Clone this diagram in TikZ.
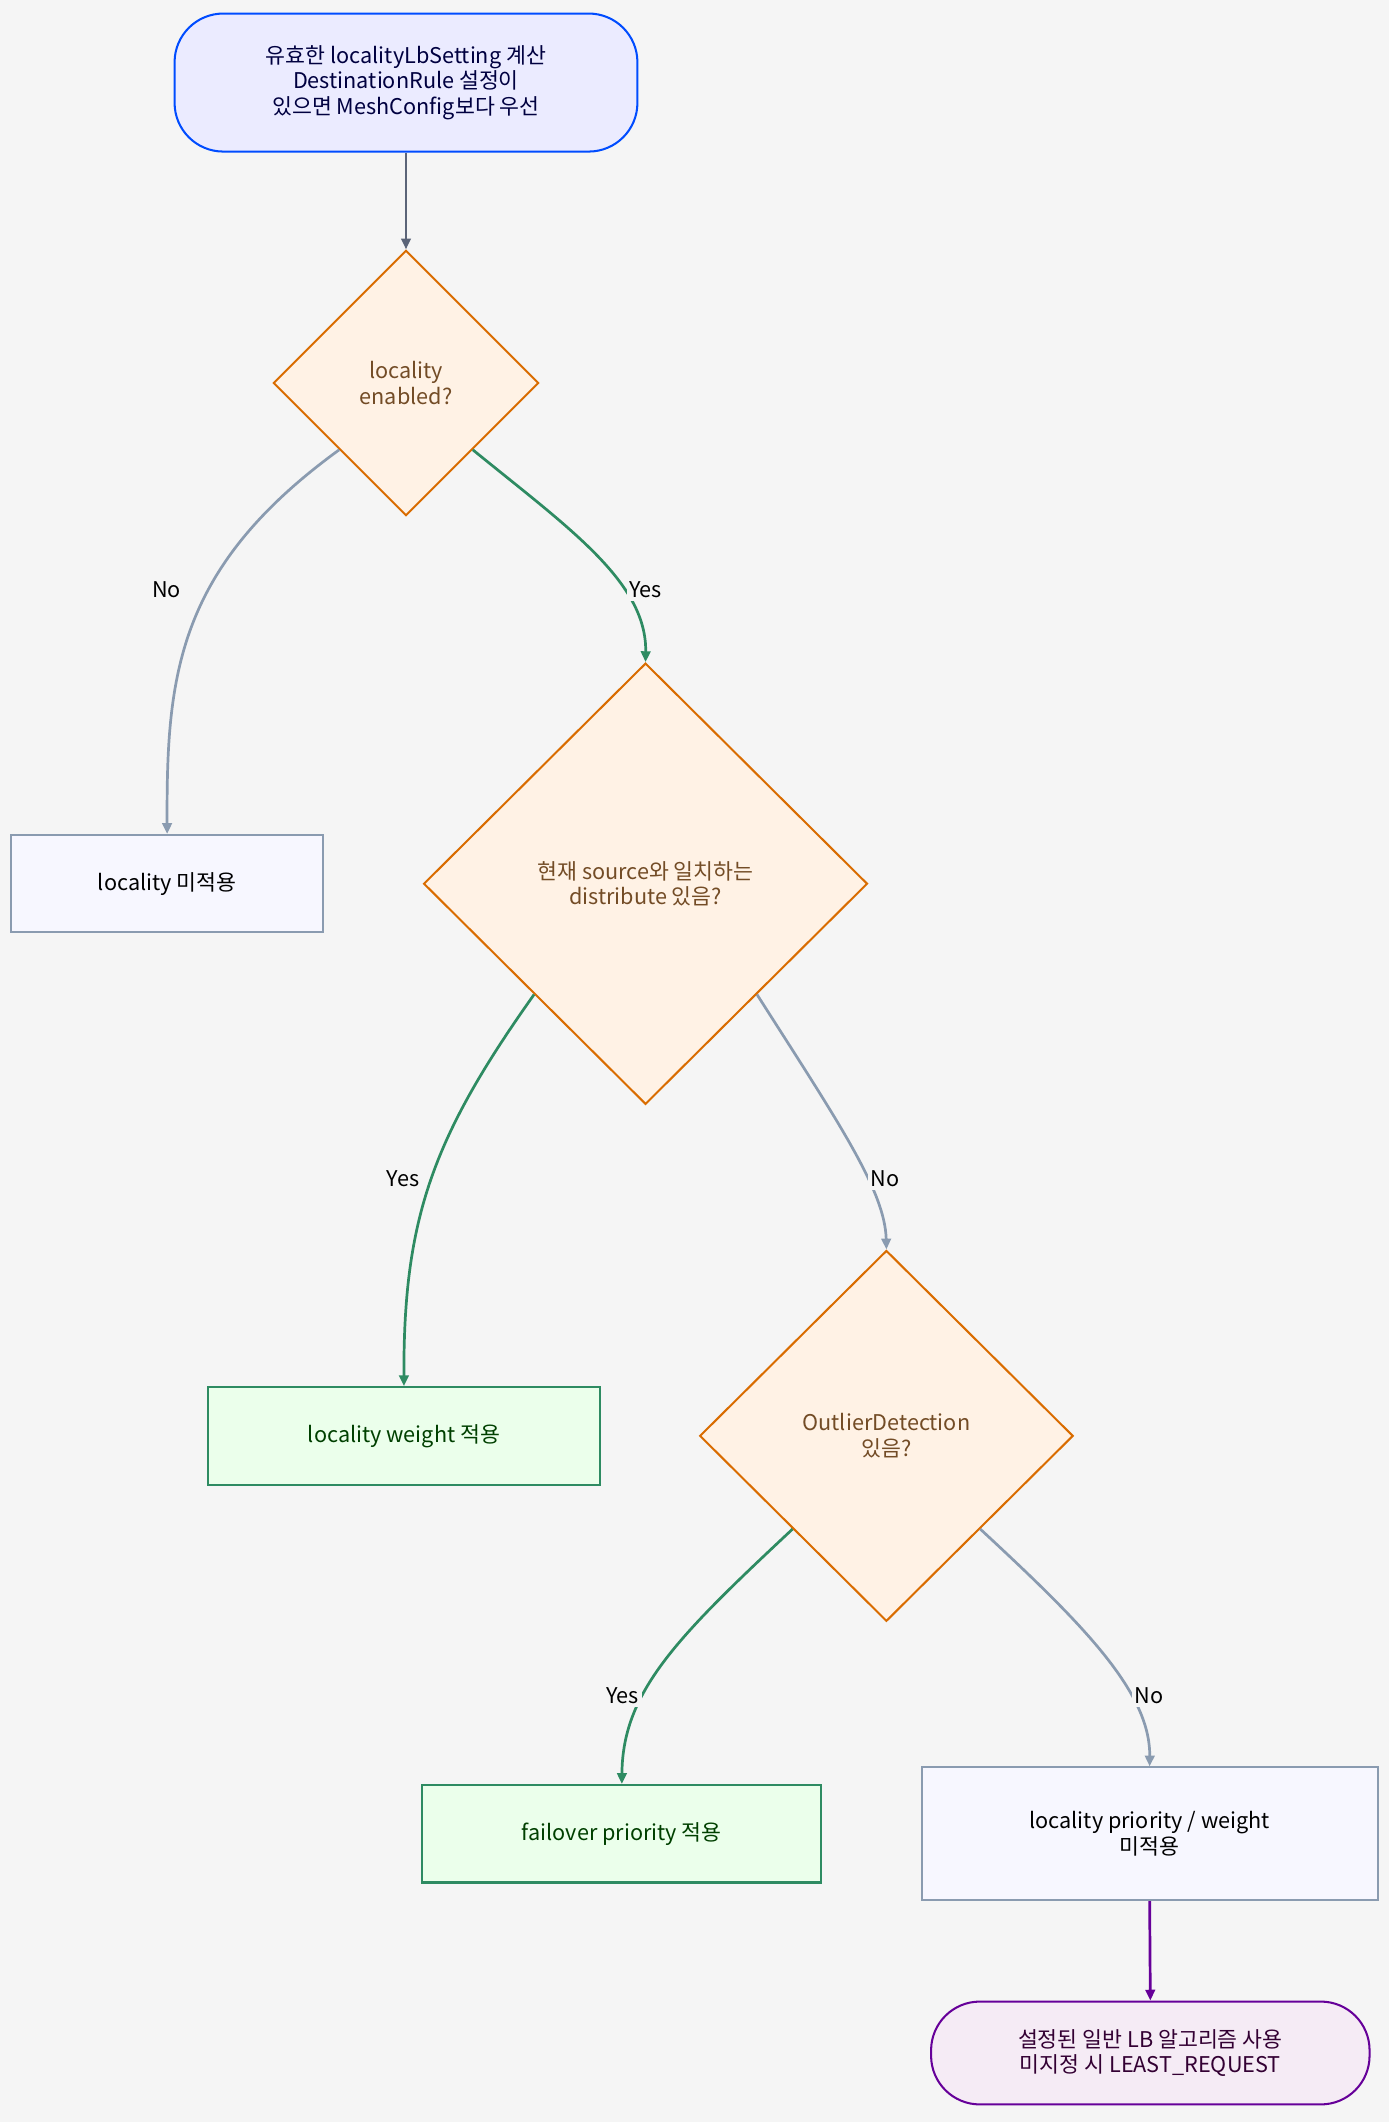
\documentclass[tikz,border=0pt]{standalone}
\usepackage{fontspec}
\setmainfont{Noto Sans CJK KR}
\usetikzlibrary{shapes.geometric,arrows.meta}
\definecolor{bg}{HTML}{F5F5F5}
\definecolor{gline}{HTML}{8A9BB0}
\definecolor{dline}{HTML}{5B6478}
\definecolor{grn}{HTML}{2E8B62}
\begin{document}
\begin{tikzpicture}[x=1pt,y=-1pt,
  every node/.style={font=\fontsize{16}{19}\selectfont, align=center},
  pill/.style={rounded corners=36pt, draw, line width=1.5pt},
  dia/.style={diamond, draw=orange!85!black, fill=orange!10, line width=1.5pt, inner sep=0, text=brown!60!black},
  gbox/.style={draw=gline, fill=blue!3, line width=1.5pt},
  okbox/.style={draw=grn, fill=green!8, line width=1.5pt, text=green!25!black},
  arr/.style={-{Triangle[length=8pt,width=7pt]}, line width=2pt},
  lab/.style={fill=bg, inner sep=2pt, text=black}]
\fill[bg] (0,0) rectangle (1026,1568);
\useasboundingbox (0,0) rectangle (1026,1568);
\node[pill, draw=blue!70!cyan, fill=blue!8, minimum width=342pt, minimum height=102pt, text=blue!25!black] (s) at (300,61) {유효한 localityLbSetting 계산\\DestinationRule 설정이\\있으면 MeshConfig보다 우선};
\node[dia, minimum width=196pt, minimum height=196pt] (d1) at (300,283) {locality\\enabled?};
\node[dia, minimum width=328pt, minimum height=326pt] (d2) at (477,653) {현재 source와 일치하는\\distribute 있음?};
\node[dia, minimum width=276pt, minimum height=274pt] (d3) at (655,1061) {OutlierDetection\\있음?};
\node[gbox, minimum width=231pt, minimum height=72pt] (b1) at (123.5,653) {locality 미적용};
\node[okbox, minimum width=289pt, minimum height=72pt] (b2) at (298.5,1061) {locality weight 적용};
\node[okbox, minimum width=295pt, minimum height=72pt] (b3) at (459.5,1355) {failover priority 적용};
\node[gbox, minimum width=337pt, minimum height=98pt] (b4) at (849.5,1355) {locality priority / weight\\미적용};
\node[pill, draw=violet!80!blue, fill=violet!8, minimum width=324pt, minimum height=76pt, text=violet!40!black] (e) at (850,1517) {설정된 일반 LB 알고리즘 사용\\미지정 시 LEAST\_REQUEST};
\draw[arr, dline] (s.south) -- (d1.north);
\draw[arr, gline] (d1.south west) .. controls (130,420) and (123,500) .. (b1.north);
\draw[arr, grn] (d1.south east) .. controls (420,390) and (478,430) .. (d2.north);
\draw[arr, grn] (d2.south west) .. controls (320,840) and (298,900) .. (b2.north);
\draw[arr, gline] (d2.south east) .. controls (620,830) and (654,880) .. (d3.north);
\draw[arr, grn] (d3.south west) .. controls (500,1210) and (460,1250) .. (b3.north);
\draw[arr, gline] (d3.south east) .. controls (800,1200) and (850,1250) .. (b4.north);
\draw[arr, violet!80!blue] (b4.south) -- (e.north);
\node[lab] (l1) at (123,436) {No};
\node[lab] (l2) at (477,436) {Yes};
\node[lab] (l3) at (298,871) {Yes};
\node[lab] (l4) at (654,871) {No};
\node[lab] (l5) at (460,1253) {Yes};
\node[lab] (l6) at (849,1253) {No};
\end{tikzpicture}
\end{document}
